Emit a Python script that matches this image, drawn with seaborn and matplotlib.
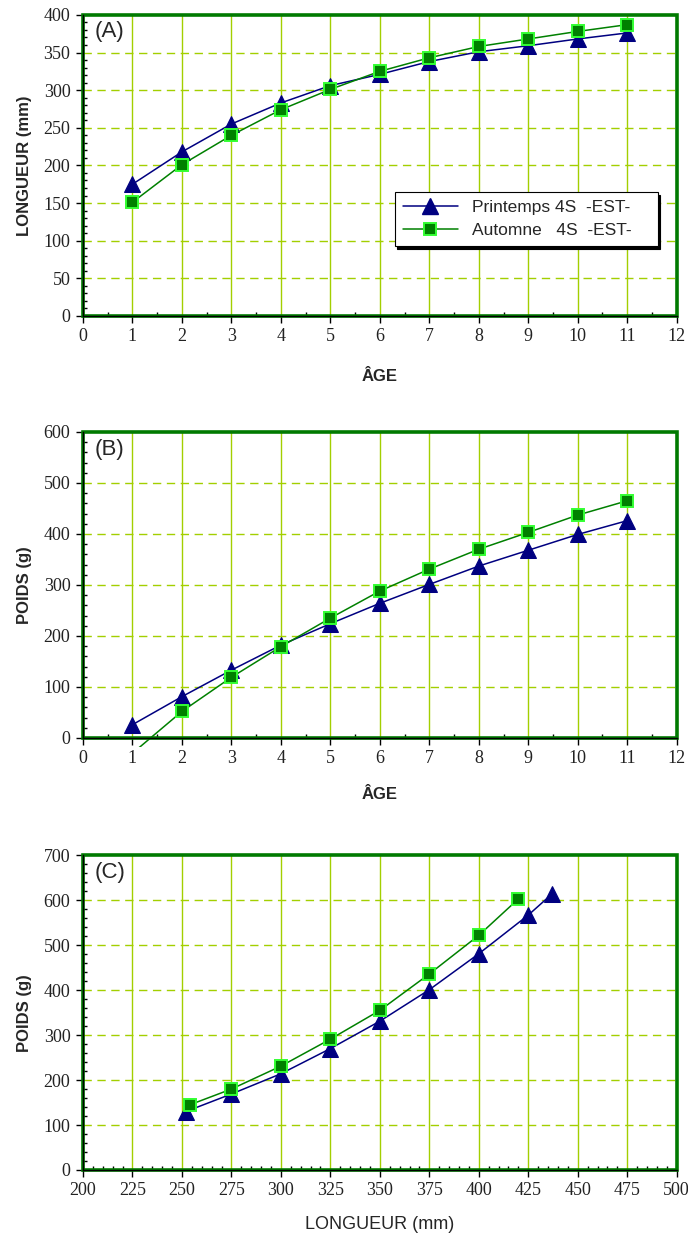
import numpy as np
import pandas as pd
import seaborn as sns
import matplotlib as mpl
import matplotlib.pyplot as plt
from matplotlib.patches import Rectangle
from matplotlib.ticker import MultipleLocator
from matplotlib.lines import Line2D

sns.set_style("white")
plt.rcParams['font.family'] = ['Liberation Sans', 'DejaVu Sans']

# ---- data ----
age = [1, 2, 3, 4, 5, 6, 7, 8, 9, 10, 11]
longueur_printemps = [175, 218, 255, 283, 306, 321, 338, 351, 359, 368, 376]
longueur_automne = [151, 201, 240, 274, 301, 325, 343, 358, 368, 378, 387]

poids_printemps = [26, 81, 133, 182, 224, 264, 301, 337, 368, 399, 426]
# first autumn value is below the axis (no marker drawn)
poids_automne = [-30, 52, 119, 179, 235, 288, 331, 370, 403, 437, 465]

lc_printemps_x = [252, 275, 300, 325, 350, 375, 400, 425, 437]
lc_printemps_y = [130, 169, 214, 270, 331, 401, 481, 567, 614]
lc_automne_x = [254, 275, 300, 325, 350, 375, 400, 420]
lc_automne_y = [145, 180, 231, 291, 355, 436, 522, 603]

lab_printemps = "Printemps 4S  -EST-"
lab_automne = "Automne   4S  -EST-"

NAVY = '#000080'
DKGREEN = '#008000'
LIME = '#33ff33'
GRID = '#a3cf00'
FRAME = '#007a00'
serif = ['Liberation Serif', 'DejaVu Serif']
sans = ['Liberation Sans', 'DejaVu Sans']

fig = plt.figure(figsize=(6.88, 12.39), dpi=100)
axA = fig.add_axes([0.1206, 0.745, 0.863, 0.243])
axB = fig.add_axes([0.1206, 0.4044, 0.863, 0.247])
axC = fig.add_axes([0.1206, 0.0557, 0.863, 0.254])


def draw_series(ax, x, y, kind, markevery=None):
    df = pd.DataFrame({'x': x, 'y': y})
    if kind == 'p':
        kw = dict(color=NAVY, marker='^', markersize=11.5, markerfacecolor=NAVY,
                  markeredgecolor=NAVY, linewidth=1.1)
    else:
        kw = dict(color=DKGREEN, marker='s', markersize=9, markerfacecolor=DKGREEN,
                  markeredgecolor=LIME, markeredgewidth=1.4, linewidth=1.1)
    if markevery is not None:
        kw['markevery'] = markevery
    sns.lineplot(data=df, x='x', y='y', ax=ax, sort=False, estimator=None, **kw)
    return ax.lines[-1]


def style_axes(ax, xlim, xmaj, xmin, ylim, ymaj, ymin, tag):
    ax.set_xlim(*xlim)
    ax.set_ylim(*ylim)
    ax.xaxis.set_major_locator(MultipleLocator(xmaj))
    ax.xaxis.set_minor_locator(MultipleLocator(xmin))
    ax.yaxis.set_major_locator(MultipleLocator(ymaj))
    ax.yaxis.set_minor_locator(MultipleLocator(ymin))
    ax.grid(False)
    for v in np.arange(xlim[0] + xmaj, xlim[1], xmaj):
        ax.axvline(v, color=GRID, linewidth=1.0, zorder=0)
    for v in np.arange(ylim[0] + ymaj, ylim[1], ymaj):
        ax.axhline(v, color=GRID, linewidth=1.0, linestyle=(0, (6, 4)), zorder=0)
    for s in ['top', 'right']:
        ax.spines[s].set_visible(False)
    for s in ['left', 'bottom']:
        ax.spines[s].set_color('black')
        ax.spines[s].set_linewidth(1.0)
        ax.spines[s].set_zorder(6)
    ax.add_patch(Rectangle((0, 0), 1, 1, transform=ax.transAxes, fill=False,
                           edgecolor=FRAME, linewidth=2.6, clip_on=False, zorder=5))
    ax.tick_params(axis='both', which='major', direction='out', length=5, width=1,
                   color='black', labelsize=13, pad=4, left=True, bottom=True)
    ax.tick_params(axis='both', which='minor', direction='in', length=3, width=1,
                   color='black', left=True, bottom=True)
    for t in ax.get_xticklabels() + ax.get_yticklabels():
        t.set_family(serif)
        t.set_color('#222222')
    ax.text(0.02, 0.978, tag, transform=ax.transAxes, ha='left', va='top',
            fontsize=16, family=sans)


# ---- (A) longueur vs age ----
draw_series(axA, age, longueur_printemps, 'p')
draw_series(axA, age, longueur_automne, 'a')
style_axes(axA, (0, 12), 1, 0.5, (0, 400), 50, 10, '(A)')
axA.set_xlabel('ÂGE', fontsize=12, fontweight='bold', labelpad=17)
axA.set_ylabel('LONGUEUR (mm)', fontsize=12, fontweight='bold', labelpad=8)

handles = [
    Line2D([], [], color=NAVY, marker='^', markersize=11.5, markerfacecolor=NAVY,
           markeredgecolor=NAVY, linewidth=1.1),
    Line2D([], [], color=DKGREEN, alpha=1, marker='s', markersize=9,
           markerfacecolor=DKGREEN, markeredgecolor=LIME, markeredgewidth=1.4,
           linewidth=1.1),
]
leg = axA.legend(handles, [lab_printemps, lab_automne], loc='lower left',
                 bbox_to_anchor=(0.525, 0.233, 0.443, 0.187), mode='expand',
                 frameon=True, fancybox=False, edgecolor='black', framealpha=1,
                 shadow={'color': 'black', 'alpha': 1}, handlelength=3.2,
                 borderpad=0.45, labelspacing=0.45, borderaxespad=0,
                 prop={'family': sans, 'size': 12.5})
leg.get_frame().set_linewidth(0.8)
leg.set_zorder(7)

# ---- (B) poids vs age ----
draw_series(axB, age, poids_printemps, 'p')
ln = draw_series(axB, age, poids_automne, 'a', markevery=list(range(1, len(age))))
ln.set_clip_path(Rectangle((0, -0.03), 1, 1.03, transform=axB.transAxes))
style_axes(axB, (0, 12), 1, 0.5, (0, 600), 100, 20, '(B)')
axB.set_xlabel('ÂGE', fontsize=12, fontweight='bold', labelpad=14)
axB.set_ylabel('POIDS (g)', fontsize=12, fontweight='bold', labelpad=8)

# ---- (C) poids vs longueur ----
draw_series(axC, lc_printemps_x, lc_printemps_y, 'p')
draw_series(axC, lc_automne_x, lc_automne_y, 'a')
style_axes(axC, (200, 500), 25, 5, (0, 700), 100, 20, '(C)')
axC.set_xlabel('LONGUEUR (mm)', fontsize=13, family=sans, labelpad=12)
axC.set_ylabel('POIDS (g)', fontsize=12, fontweight='bold', labelpad=8)

fig.savefig('out.png', dpi=100)
